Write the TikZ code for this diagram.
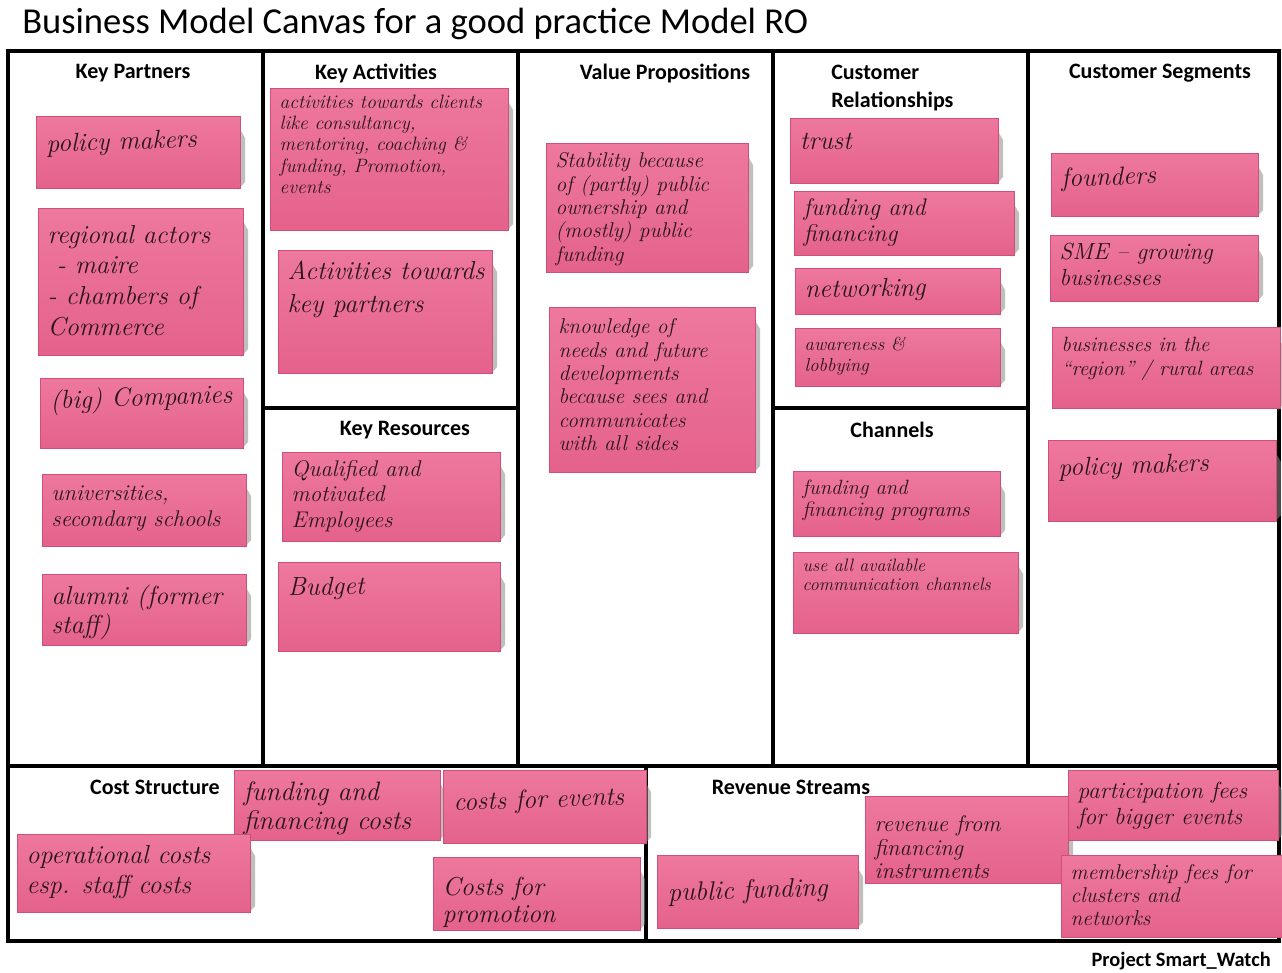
\documentclass[tikz,border=0pt]{standalone}
\usepackage{fontspec}
\newfontfamily\calibri{Carlito}
\usetikzlibrary{fit,calc}
\definecolor{pinktop}{RGB}{238,120,158}
\definecolor{pinkbot}{RGB}{228,98,140}
\definecolor{pinkedge}{RGB}{205,80,120}
\definecolor{textc}{RGB}{40,20,25}
\tikzset{
  grid/.style={line width=2.3pt, black},
  note/.style={inner sep=0pt, top color=pinktop, bottom color=pinkbot, draw=pinkedge, line width=0.3pt},
  notesh/.style={black!45, opacity=0.55},
  hand/.style 2 args={font=\itshape\fontsize{#1}{#2}\selectfont, align=left, inner sep=2pt, text=textc},
  hdr/.style={font=\calibri\bfseries\fontsize{16.5}{19.5}\selectfont, inner sep=0pt},
}
\newcommand\sticky[8]{%
  \fill[notesh] (#4-3,#3+8) -- (#4+5,#3+22) -- (#4+5,#5-6) -- (#4-2,#5+2) -- cycle;
  \node[note, fit={(#2,#3) (#4,#5)}] (#1) {};
  \node[#6, anchor=north west, #7] (#1t) at ($(#1.north west)+(7,9)$) {#8};
}
\begin{document}
\begin{tikzpicture}[x=0.75pt,y=-0.75pt]
\useasboundingbox[fill=white] (0,0) rectangle (1282,972);
% title
\node[font=\calibri\fontsize{27.4}{30}\selectfont, anchor=base west, inner sep=0pt] (title) at (22,33) {Business Model Canvas for a good practice Model RO};
% grid
\draw[grid] (8,51) rectangle (1279,941);
\draw[grid] (263,51) -- (263,766);
\draw[grid] (518,51) -- (518,766);
\draw[grid] (773,51) -- (773,766);
\draw[grid] (1028,51) -- (1028,766);
\draw[grid] (8,766) -- (1279,766);
\draw[grid] (646,766) -- (646,941);
\draw[grid] (263,408) -- (518,408);
\draw[grid] (773,408) -- (1028,408);
% headers
\node[hdr] (kp) at (133,73) {Key Partners};
\node[hdr] (ka) at (376,73) {Key Activities};
\node[hdr] (vp) at (665,73) {Value Propositions};
\node[hdr, align=left, anchor=north west] (cr) at (831,65) {Customer\\[1pt]Relationships};
\node[hdr] (cs) at (1160,73) {Customer Segments};
\node[hdr] (kr) at (405,430) {Key Resources};
\node[hdr] (ch) at (892,430) {Channels};
\node[hdr] (cost) at (155,787) {Cost Structure};
\node[hdr] (rev) at (791,787) {Revenue Streams};
\node[hdr, font=\calibri\bfseries\fontsize{15.3}{18}\selectfont, anchor=base east] (proj) at (1271,966) {Project Smart\_Watch};
% Key Partners
\sticky{n1}{36}{116}{240}{188}{hand={19.5}{23}}{rotate=2,yshift=-5pt}{policy makers}
\sticky{n2}{38}{208}{243}{355}{hand={19.5}{23}}{yshift=-4pt}{regional actors\\\ - maire\\- chambers of\\Commerce}
\sticky{n3}{40}{378}{243}{448}{hand={19.5}{23}}{rotate=2}{(big) Companies}
\sticky{n4}{42}{474}{246}{546}{hand={17}{19.5}}{}{universities,\\secondary schools}
\sticky{n5}{42}{574}{246}{645}{hand={19.5}{22}}{yshift=0.75pt}{alumni (former\\staff)}
% Key Activities
\sticky{n6}{270}{88}{508}{230}{hand={14.5}{16}}{yshift=3.75pt}{activities towards clients\\like consultancy,\\mentoring, coaching \&\\funding, Promotion,\\events}
\sticky{n7}{278}{250}{492}{373}{hand={19.5}{25}}{yshift=0.75pt}{Activities towards\\key partners}
% Key Resources
\sticky{n8}{282}{452}{500}{541}{hand={17}{19}}{yshift=2.5pt}{Qualified and\\motivated\\Employees}
\sticky{n9}{278}{562}{500}{651}{hand={19.5}{23}}{rotate=1,yshift=-3pt}{Budget}
% Value Propositions
\sticky{n10}{546}{143}{748}{272}{hand={16}{17.5}}{yshift=1.5pt}{Stability because\\of (partly) public\\ownership and\\(mostly) public\\funding}
\sticky{n11}{549}{307}{755}{472}{hand={16}{17.5}}{}{knowledge of\\needs and future\\developments\\because sees and\\communicates\\with all sides}
% Customer Relationships
\sticky{n12}{790}{118}{998}{183}{hand={19.5}{23}}{rotate=1,yshift=-3pt}{trust}
\sticky{n13}{794}{191}{1014}{255}{hand={18}{19.5}}{yshift=3pt}{funding and\\financing}
\sticky{n14}{795}{268}{1000}{314}{hand={19.5}{23}}{rotate=1}{networking}
\sticky{n15}{795}{328}{1000}{386}{hand={14}{15.5}}{yshift=2pt}{awareness \&\\lobbying}
% Channels
\sticky{n16}{793}{471}{1000}{536}{hand={15.5}{16.5}}{yshift=2pt}{funding and\\financing programs}
\sticky{n17}{793}{552}{1018}{633}{hand={13.5}{14.5}}{yshift=3.5pt}{use all available\\communication channels}
% Customer Segments
\sticky{n18}{1051}{153}{1258}{216}{hand={19.5}{23}}{rotate=2,yshift=-3pt}{founders}
\sticky{n19}{1050}{235}{1258}{301}{hand={17.5}{19.5}}{yshift=2.5pt}{SME -- growing\\businesses}
\sticky{n20}{1052}{327}{1280}{408}{hand={15.5}{18}}{yshift=1.5pt}{businesses in the\\``region'' / rural areas}
\sticky{n21}{1048}{440}{1276}{521}{hand={19.5}{23}}{rotate=2,yshift=-5pt}{policy makers}
% Cost Structure
\sticky{n22}{234}{770}{440}{840}{hand={20}{21.5}}{}{funding and\\financing costs}
\sticky{n23}{443}{770}{646}{843}{hand={19.5}{23}}{rotate=2,yshift=-8pt}{costs for events}
\sticky{n24}{17}{834}{250}{912}{hand={19.5}{22.5}}{}{operational costs\\esp. staff costs}
\sticky{n25}{433}{857}{640}{930}{hand={19.5}{20.5}}{yshift=-6pt}{Costs for\\promotion}
% Revenue Streams
\sticky{n26}{657}{855}{858}{928}{hand={20}{23}}{rotate=2,yshift=-12pt}{public funding}
\sticky{n27}{865}{796}{1068}{883}{hand={17}{17.5}}{yshift=-6pt}{revenue from\\financing\\instruments}
\sticky{n28}{1068}{770}{1278}{840}{hand={17.5}{20}}{}{participation fees\\for bigger events}
\sticky{n29}{1061}{855}{1282}{937}{hand={16}{17.5}}{yshift=2pt}{membership fees for\\clusters and\\networks}
\end{tikzpicture}
\end{document}
